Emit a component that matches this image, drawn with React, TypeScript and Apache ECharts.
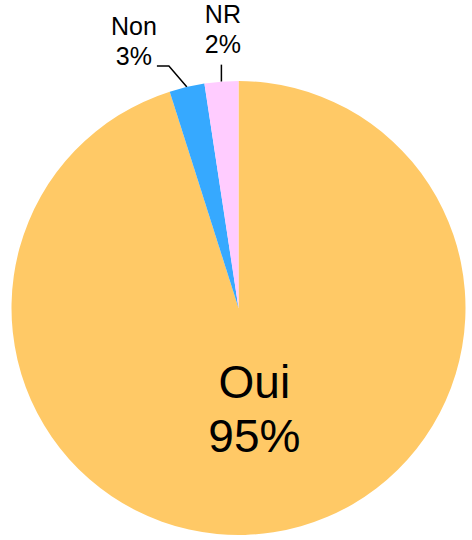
import React, { useEffect, useRef } from "react";
import * as echarts from "echarts";

const categories = ["Oui", "Non", "NR"];
const values = [95.1, 2.5, 2.4];
const colors = ["#FFC966", "#36A9FF", "#FFCCFF"];

export default function App() {
  const ref = useRef<HTMLDivElement>(null);
  useEffect(() => {
    if (!ref.current) return;
    const chart = echarts.init(ref.current, null, { renderer: "svg" });
    const font = "'Liberation Sans', Arial, sans-serif";
    chart.setOption({
      animation: false,
      backgroundColor: "#ffffff",
      series: [
        {
          type: "pie",
          center: [238.5, 308],
          radius: 227,
          startAngle: 90,
          clockwise: true,
          avoidLabelOverlap: false,
          itemStyle: { borderWidth: 0 },
          emphasis: { disabled: true },
          label: {
            color: "#000",
            fontFamily: font,
            formatter: (p: any) => `${p.name}\n${Math.round(p.percent)}%`,
          },
          labelLine: { lineStyle: { color: "#000", width: 1.5 } },
          labelLayout: (params: any) => {
            const name = categories[params.dataIndex];
            if (name === "Oui") return { dx: -2, dy: -14 };
            const p = params.labelLinePoints;
            if (!p) return {};
            const x0 = p[0][0];
            const y0 = p[0][1];
            if (name === "Non") {
              return {
                x: x0 - 53,
                y: y0 - 46,
                align: "center",
                verticalAlign: "middle",
                labelLinePoints: [
                  [x0, y0],
                  [x0 - 18, y0 - 21],
                  [x0 - 30, y0 - 21],
                ],
              };
            }
            return {
              x: x0 + 1.5,
              y: y0 - 53,
              align: "center",
              verticalAlign: "middle",
              labelLinePoints: [
                [x0, y0],
                [x0, y0 - 17],
                [x0, y0 - 17],
              ],
            };
          },
          data: categories.map((c, i) => ({
            name: c,
            value: values[i],
            itemStyle: { color: colors[i] },
            label:
              i === 0
                ? { position: "inside", fontSize: 46, lineHeight: 54 }
                : { position: "outside", fontSize: 25, lineHeight: 30 },
            labelLine: { show: i !== 0 },
          })),
        },
      ],
    });
    return () => chart.dispose();
  }, []);
  return (
    <div
      ref={ref}
      style={{ position: "fixed", left: 0, top: 0, width: 472, height: 540 }}
    />
  );
}
